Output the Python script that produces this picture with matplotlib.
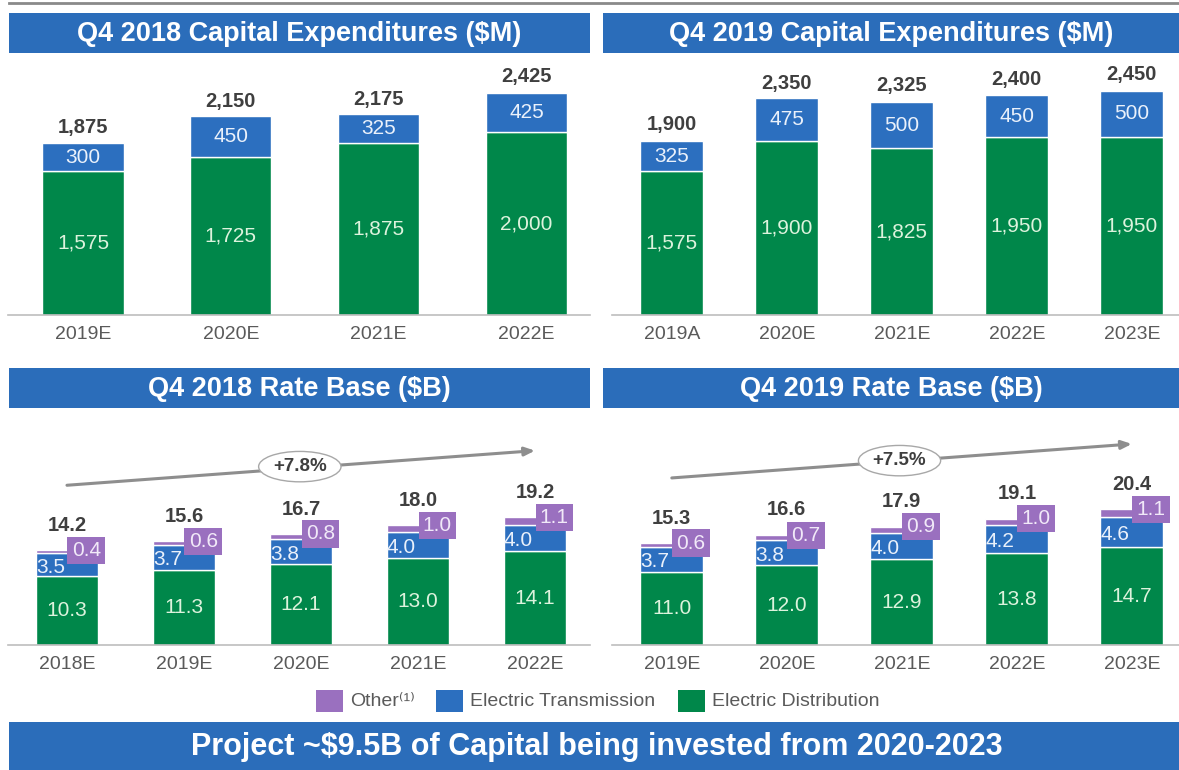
"""Capital expenditures and rate base comparison, Q4 2018 vs Q4 2019."""

import matplotlib.pyplot as plt
import numpy as np
from matplotlib.patches import Rectangle

plt.rcParams["font.family"] = ["Liberation Sans", "DejaVu Sans"]

W, H = 1179, 770

GREEN = "#00874A"
BLUE = "#2C6FBF"
HEADER = "#2B6DBA"
PURPLE = "#9A70BF"
DARK = "#3F3F3F"
TICK = "#5A5A5A"
GREEN_TXT = "#DDF3DD"
BLUE_TXT = "#EAF1FB"

# Q4 2018 capital expenditures ($M)
capex18_years = ["2019E", "2020E", "2021E", "2022E"]
capex18_dist = [1575, 1725, 1875, 2000]
capex18_trans = [300, 450, 325, 425]
capex18_total = [1875, 2150, 2175, 2425]

# Q4 2019 capital expenditures ($M)
capex19_years = ["2019A", "2020E", "2021E", "2022E", "2023E"]
capex19_dist = [1575, 1900, 1825, 1950, 1950]
capex19_trans = [325, 475, 500, 450, 500]
capex19_total = [1900, 2350, 2325, 2400, 2450]

# Q4 2018 rate base ($B)
rb18_years = ["2018E", "2019E", "2020E", "2021E", "2022E"]
rb18_dist = [10.3, 11.3, 12.1, 13.0, 14.1]
rb18_trans = [3.5, 3.7, 3.8, 4.0, 4.0]
rb18_other = [0.4, 0.6, 0.8, 1.0, 1.1]
rb18_total = [14.2, 15.6, 16.7, 18.0, 19.2]

# Q4 2019 rate base ($B)
rb19_years = ["2019E", "2020E", "2021E", "2022E", "2023E"]
rb19_dist = [11.0, 12.0, 12.9, 13.8, 14.7]
rb19_trans = [3.7, 3.8, 4.0, 4.2, 4.6]
rb19_other = [0.6, 0.7, 0.9, 1.0, 1.1]
rb19_total = [15.3, 16.6, 17.9, 19.1, 20.4]

legend_labels = ["Other⁽¹⁾", "Electric Transmission", "Electric Distribution"]
legend_colors = [PURPLE, BLUE, GREEN]


def px_axes(fig, x0, y0, x1, y1):
    """Add axes using pixel box measured from the top-left corner."""
    return fig.add_axes([x0 / W, 1 - y1 / H, (x1 - x0) / W, (y1 - y0) / H])


def style_axes(ax, years, xlim, ylim):
    ax.set_xlim(*xlim)
    ax.set_ylim(*ylim)
    ax.set_xticks(np.arange(len(years)))
    ax.set_xticklabels(years, fontsize=14, color=TICK)
    ax.tick_params(axis="x", length=0, pad=8)
    ax.set_yticks([])
    for side in ["left", "right", "top"]:
        ax.spines[side].set_visible(False)
    ax.spines["bottom"].set_color("#BDBDBD")
    ax.spines["bottom"].set_linewidth(1.2)


def capex_panel(ax, years, dist, trans, total, xlim, width):
    x = np.arange(len(years))
    ax.bar(x, dist, width, color=GREEN, edgecolor="white", linewidth=1)
    ax.bar(x, trans, width, bottom=dist, color=BLUE, edgecolor="white", linewidth=1)
    for xi, d, t, tot in zip(x, dist, trans, total):
        ax.text(xi, d / 2, f"{d:,}", ha="center", va="center",
                fontsize=15, color=GREEN_TXT)
        ax.text(xi, d + t / 2, f"{t:,}", ha="center", va="center",
                fontsize=15, color=BLUE_TXT)
        ax.annotate(f"{tot:,}", (xi, tot), xytext=(0, 5),
                    textcoords="offset points", ha="center", va="bottom",
                    fontsize=14.5, fontweight="bold", color=DARK)
    style_axes(ax, years, xlim, (0, 2700))


def rate_base_panel(ax, years, dist, trans, other, total, xlim, width):
    x = np.arange(len(years))
    ax.bar(x, dist, width, color=GREEN, edgecolor="white", linewidth=1)
    ax.bar(x, trans, width, bottom=dist, color=BLUE, edgecolor="white", linewidth=1)
    tops = np.array(dist) + np.array(trans)
    ax.bar(x, other, width, bottom=tops, color=PURPLE, edgecolor="white", linewidth=1)
    for xi, d, t, o, tot in zip(x, dist, trans, other, total):
        ax.text(xi, d / 2, f"{d:.1f}", ha="center", va="center",
                fontsize=15, color=GREEN_TXT)
        ax.text(xi - width / 2, d + 0.4 * t, f"{t:.1f}", ha="left", va="center",
                fontsize=15, color=BLUE_TXT)
        ax.text(xi + 0.04, d + t + o, f"{o:.1f}", ha="left", va="center",
                fontsize=15, color="#F1E9F8",
                bbox=dict(boxstyle="square,pad=0.2", fc=PURPLE, ec="none"))
        ax.annotate(f"{tot:.1f}", (xi, tot), xytext=(0, 11),
                    textcoords="offset points", ha="center", va="bottom",
                    fontsize=14.5, fontweight="bold", color=DARK)
    style_axes(ax, years, xlim, (0, 30.8))


def growth_arrow(ax, start, end, label, label_pos):
    ax.annotate("", xy=end, xytext=start,
                arrowprops=dict(arrowstyle="-|>,head_length=0.6,head_width=0.25",
                                color="#8E8E8E", lw=2.2, shrinkA=0, shrinkB=0))
    ax.text(*label_pos, label, ha="center", va="center", fontsize=13.5,
            fontweight="bold", color=DARK,
            bbox=dict(boxstyle="ellipse,pad=0.12", fc="white", ec="#A8A8A8", lw=1))


fig = plt.figure(figsize=(W / 100, H / 100), dpi=100)

# overlay for headers, legend and banner, in pixel coordinates
deco = fig.add_axes([0, 0, 1, 1])
deco.set_xlim(0, W)
deco.set_ylim(H, 0)
deco.axis("off")

deco.plot([9, W], [3, 3], color="#8A8A8A", lw=2)

headers = [
    (9, 13, 590, 53, "Q4 2018 Capital Expenditures ($M)"),
    (603, 13, W, 53, "Q4 2019 Capital Expenditures ($M)"),
    (9, 368, 590, 408, "Q4 2018 Rate Base ($B)"),
    (603, 368, W, 408, "Q4 2019 Rate Base ($B)"),
]
for x0, y0, x1, y1, title in headers:
    deco.add_patch(Rectangle((x0, y0), x1 - x0, y1 - y0, color=HEADER, lw=0))
    deco.text((x0 + x1) / 2, (y0 + y1) / 2 + 1, title, ha="center", va="center",
              fontsize=19.5, fontweight="bold", color="white")

# legend
legend_x = [316, 436, 678]
for lx, lab, col in zip(legend_x, legend_labels, legend_colors):
    deco.add_patch(Rectangle((lx, 690), 27, 22, color=col, lw=0))
    deco.text(lx + 34, 701, lab, ha="left", va="center", fontsize=14, color=TICK)

# bottom banner
deco.add_patch(Rectangle((9, 722), W - 9, H - 722, color=HEADER, lw=0))
deco.text(597, 747, "Project ~$9.5B of Capital being invested from 2020-2023",
          ha="center", va="center", fontsize=22, fontweight="bold", color="white")

ax1 = px_axes(fig, 8, 68, 590, 315)
capex_panel(ax1, capex18_years, capex18_dist, capex18_trans, capex18_total,
            (-0.507, 3.43), 0.55)

ax2 = px_axes(fig, 612, 68, W, 315)
capex_panel(ax2, capex19_years, capex19_dist, capex19_trans, capex19_total,
            (-0.52, 4.41), 0.55)

ax3 = px_axes(fig, 8, 440, 590, 645)
rate_base_panel(ax3, rb18_years, rb18_dist, rb18_trans, rb18_other, rb18_total,
                (-0.504, 4.47), 0.53)
growth_arrow(ax3, (0.0, 24.0), (4.0, 29.2), "+7.8%", (1.99, 26.8))

ax4 = px_axes(fig, 612, 440, W, 645)
rate_base_panel(ax4, rb19_years, rb19_dist, rb19_trans, rb19_other, rb19_total,
                (-0.52, 4.41), 0.55)
growth_arrow(ax4, (0.0, 25.1), (4.0, 30.2), "+7.5%", (1.98, 27.7))

fig.savefig("out.png", dpi=100)
